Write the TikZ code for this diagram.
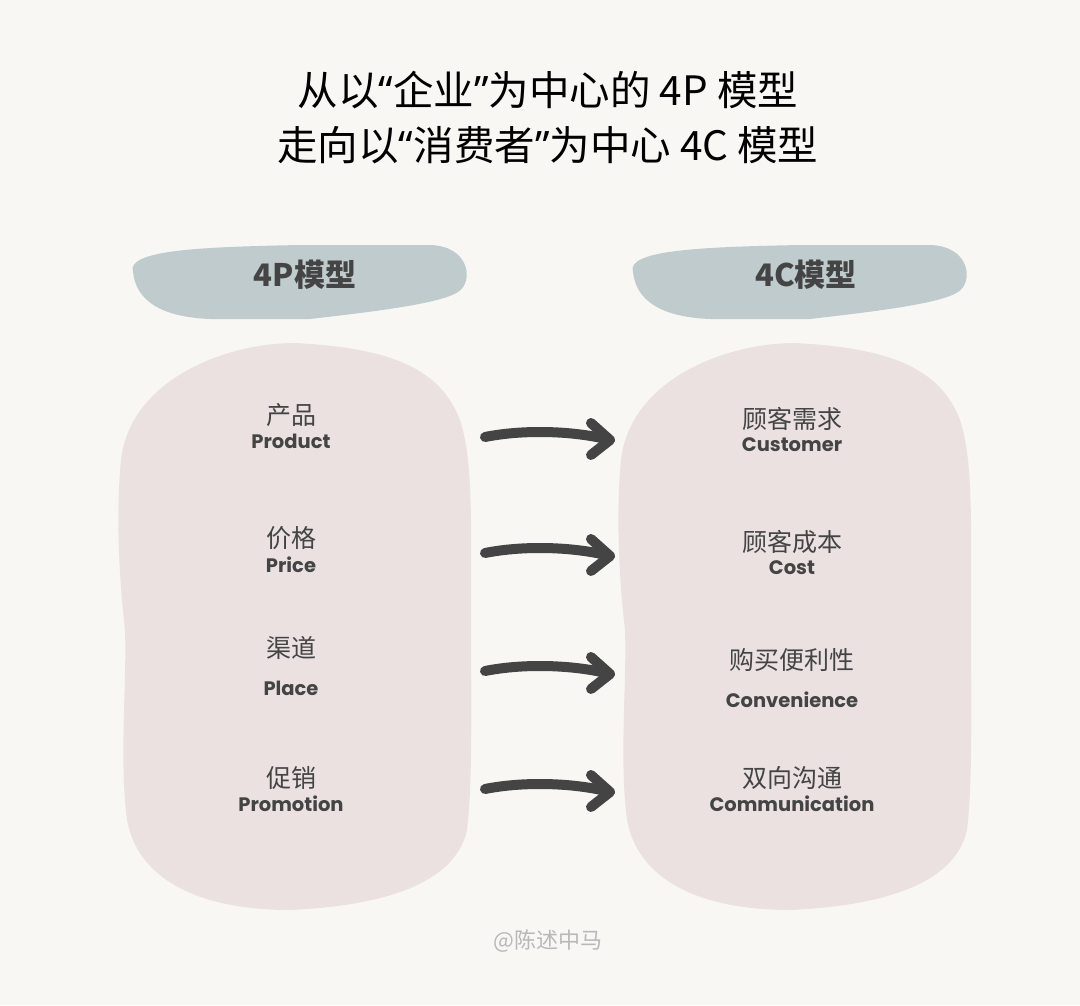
\documentclass[tikz,border=0pt]{standalone}
\usepackage{fontspec}
\newfontfamily\cjk{Noto Sans CJK SC}
\newfontfamily\hand{Poppins}
\newfontfamily\lat{Noto Sans}
\definecolor{bg}{HTML}{F8F7F4}
\definecolor{headc}{HTML}{BFCBCD}
\definecolor{bodyc}{HTML}{EAE1E0}
\definecolor{ink}{HTML}{444444}
\definecolor{wm}{HTML}{B8B8B8}
\newcommand{\myLq}{{\lat “}}
\newcommand{\myRq}{{\lat ”}}
\tikzset{
  zh/.style={font=\cjk\fontsize{25}{28}\selectfont, text=ink, inner sep=0pt},
  en/.style={font=\hand\fontsize{19.5}{22}\selectfont\bfseries, text=ink, inner sep=0pt},
  head/.style={font=\cjk\fontsize{31}{34}\selectfont\bfseries, text=ink, inner sep=0pt},
  ttl/.style={font=\cjk\fontsize{40.5}{44}\selectfont, text=black, inner sep=0pt},
  arr/.style={draw=ink, line width=10pt, line cap=round, line join=round},
}
\begin{document}
\begin{tikzpicture}[x=1pt,y=-1pt]
\fill[bg] (0,0) rectangle (1080,1005);
\useasboundingbox (0,0) rectangle (1080,1005);
% title
\node[ttl] (t1) at (548,90) {从以\myLq 企业\myRq 为中心的 4P 模型};
\node[ttl] (t2) at (548,145) {走向以\myLq 消费者\myRq 为中心 4C 模型};
% header and body blobs
\foreach \dx in {0,500}{
\begin{scope}[xshift=\dx]
\fill[headc] (133,272) .. controls (126,250) and (200,247) .. (300,245) -- (430,245)
  .. controls (470,246) and (474,282) .. (458,292) .. controls (440,304) and (370,312) .. (310,319)
  -- (210,319) .. controls (160,317) and (136,300) .. (133,272) -- cycle;
\fill[bodyc] (295,343) .. controls (390,348) and (440,368) .. (460,420)
  .. controls (473,460) and (471,520) .. (471,600)
  .. controls (471,700) and (473,780) .. (467,830)
  .. controls (455,885) and (380,906) .. (290,910)
  .. controls (200,910) and (138,880) .. (127,820)
  .. controls (119,760) and (127,680) .. (125,630)
  .. controls (117,560) and (117,500) .. (121,460)
  .. controls (130,380) and (225,343) .. (295,343) -- cycle;
\end{scope}
}
\node[head] (h1) at (305,275) {4P模型};
\node[head] (h2) at (806,275) {4C模型};
% left texts
\node[zh] (p1) at (291,415) {产品};
\node[en] (p1e) at (291,441) {Product};
\node[zh] (p2) at (291,538) {价格};
\node[en] (p2e) at (291,565) {Price};
\node[zh] (p3) at (291,648) {渠道};
\node[en] (p3e) at (291,688) {Place};
\node[zh] (p4) at (291,778) {促销};
\node[en] (p4e) at (291,804) {Promotion};
% right texts
\node[zh] (c1) at (792,419) {顾客需求};
\node[en] (c1e) at (792,445) {Customer};
\node[zh] (c2) at (792,542) {顾客成本};
\node[en] (c2e) at (792,568) {Cost};
\node[zh] (c3) at (792,660) {购买便利性};
\node[en] (c3e) at (792,700) {Convenience};
\node[zh] (c4) at (792,778) {双向沟通};
\node[en] (c4e) at (792,804) {Communication};
% arrows
\foreach \y/\i in {437/1,553/2,671/3,789/4}{
  \coordinate (a\i) at (485,\y);
  \coordinate (b\i) at (610,\y+3);
  \draw[arr] (a\i) .. controls (525,\y-8) and (575,\y-6) .. (b\i);
  \draw[arr] ([shift={(-19,-17)}]b\i) -- (b\i) -- ([shift={(-19,15)}]b\i);
}
\node[font=\cjk\fontsize{22}{24}\selectfont, text=wm, inner sep=0pt] (wmk) at (548,941) {@陈述中马};
\end{tikzpicture}
\end{document}
